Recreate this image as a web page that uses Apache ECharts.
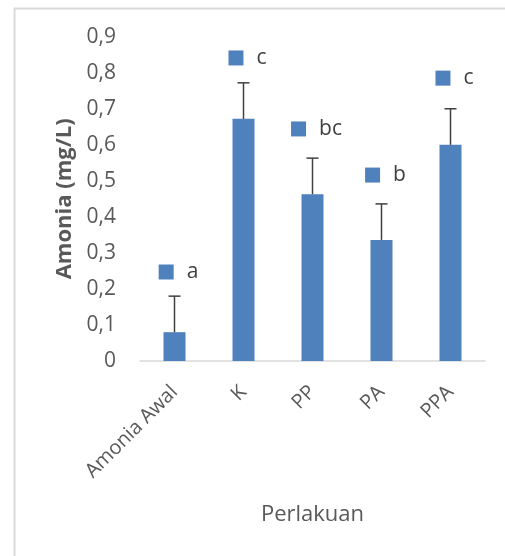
<!DOCTYPE html>
<html>
<head>
<meta charset="utf-8">
<script src="https://cdn.jsdelivr.net/npm/echarts@6/dist/echarts.min.js"></script>
<style>
html,body{margin:0;padding:0;background:#fff;}
#chart{width:505px;height:556px;}
</style>
</head>
<body>
<div id="chart"></div>
<script>
const categories = ['Amonia Awal', 'K', 'PP', 'PA', 'PPA'];
const means = [0.08, 0.672, 0.463, 0.336, 0.600];
const errors = [0.10, 0.10, 0.10, 0.10, 0.10];
const letters = ['a', 'c', 'bc', 'b', 'c'];
const letterPos = [0.247, 0.841, 0.644, 0.516, 0.785];
const yMin = 0, yMax = 0.9, yStep = 0.1;

const FONT = '"Open Sans", sans-serif';
const chart = echarts.init(document.getElementById('chart'), null, {renderer: 'canvas'});

const option = {
  animation: false,
  backgroundColor: '#ffffff',
  textStyle: {fontFamily: FONT},
  graphic: [{
    type: 'rect', left: 12, top: 6, z: -10,
    shape: {width: 600, height: 600},
    style: {fill: 'none', stroke: '#d9d9d9', lineWidth: 2}
  }],
  grid: {left: 140, right: 20, top: 36.7, bottom: 195, containLabel: false},
  xAxis: {
    type: 'category',
    data: categories,
    axisLine: {lineStyle: {color: '#d9d9d9', width: 1.5}},
    axisTick: {show: false},
    axisLabel: {rotate: 45, fontSize: 20, color: '#595959', margin: 28, fontFamily: FONT},
    name: 'Perlakuan',
    nameLocation: 'middle',
    nameGap: 143,
    nameTextStyle: {fontSize: 22, color: '#595959', fontFamily: FONT}
  },
  yAxis: {
    type: 'value',
    min: yMin, max: yMax, interval: yStep,
    axisLine: {show: false},
    axisTick: {show: false},
    splitLine: {show: false},
    axisLabel: {
      fontSize: 21, color: '#595959', margin: 24, fontFamily: FONT,
      formatter: v => v === 0 ? '0' : v.toFixed(1).replace('.', ',')
    },
    name: 'Amonia (mg/L)',
    nameLocation: 'middle',
    nameGap: 61,
    nameTextStyle: {fontSize: 22, fontWeight: 'bold', color: '#595959', fontFamily: FONT}
  },
  series: [
    {
      type: 'bar',
      data: means,
      barWidth: 22,
      itemStyle: {color: '#4F81BD'}
    },
    {
      type: 'custom',
      data: means.map((m, i) => [i, m, m + errors[i]]),
      renderItem: function (params, api) {
        const base = api.coord([api.value(0), api.value(1)]);
        const top = api.coord([api.value(0), api.value(2)]);
        const half = 6;
        const st = {stroke: '#404040', lineWidth: 1.5};
        return {
          type: 'group',
          children: [
            {type: 'line', shape: {x1: base[0], y1: base[1], x2: top[0], y2: top[1]}, style: st},
            {type: 'line', shape: {x1: top[0] - half, y1: top[1], x2: top[0] + half, y2: top[1]}, style: st}
          ]
        };
      },
      z: 5
    },
    {
      type: 'scatter',
      data: letterPos.map((p, i) => [i, p, letters[i]]),
      symbolSize: 1,
      itemStyle: {color: 'rgba(0,0,0,0)', opacity: 1},
      label: {
        show: true,
        position: 'inside',
        offset: [4, 0],
        opacity: 1,
        formatter: p => '{k|}{t|' + p.value[2] + '}',
        rich: {
          k: {width: 15, height: 15, backgroundColor: '#4F81BD'},
          t: {fontSize: 21, color: '#404040', padding: [0, 0, 0, 13], fontFamily: FONT}
        }
      },
      emphasis: {disabled: true},
      z: 6
    }
  ]
};
chart.setOption(option);
</script>
</body>
</html>
